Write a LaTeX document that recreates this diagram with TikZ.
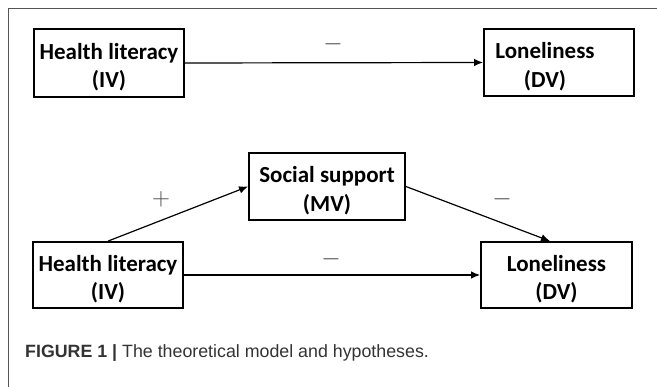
\documentclass[tikz,border=0pt]{standalone}
\usepackage{fontspec}
\setmainfont{Carlito}
\newfontfamily\capfont{Liberation Sans}
\usetikzlibrary{arrows.meta}
\definecolor{framegray}{HTML}{555555}
\definecolor{capgray}{HTML}{333333}
\definecolor{signgray}{HTML}{444444}
\newcommand{\topstrut}{\rule{0pt}{24pt}}
\begin{document}
\begin{tikzpicture}[x=1pt,y=-1pt,
  varbox/.style={draw=black, line width=1.8pt, rectangle, inner sep=0pt,
    align=center, font=\fontsize{23}{28.5}\selectfont\bfseries},
  link/.style={draw=black, line width=1.2pt, -{Latex[length=9pt,width=7.5pt]}},
  sign/.style={text=signgray, font=\fontsize{23}{26}\selectfont, inner sep=0pt}
]
\useasboundingbox (0,0) rectangle (657,387);
% page frame
\draw[framegray, line width=1pt] (8,387) -- (8,9) -- (657,9);

% top model
\node[varbox, minimum width=150pt, minimum height=68pt] (hl1) at (109,63) {\topstrut Health literacy\\(IV)};
\node[varbox, minimum width=150pt, minimum height=67pt] (lo1) at (559,62.5) {\topstrut Loneliness\hspace*{28pt}\\(DV)\hspace*{28pt}};
\draw[link] (hl1.east) -- (lo1.west);
\node[sign] (s1) at (333,44) {$-$};

% mediation model
\node[varbox, minimum width=156pt, minimum height=67pt] (ss) at (327,186.5) {\topstrut Social support\\(MV)};
\node[varbox, minimum width=150pt, minimum height=66pt] (hl2) at (108,275) {\topstrut Health literacy\\(IV)};
\node[varbox, minimum width=151pt, minimum height=66pt] (lo2) at (556.5,275) {\topstrut Loneliness\\(DV)};
\coordinate (lo2in) at ([xshift=-6.5pt]lo2.north);
\draw[link] (hl2.north) -- (ss.west);
\draw[link] (ss.east) -- (lo2in);
\draw[link] (hl2.east) -- (lo2.west);
\node[sign] (s2) at (161,199) {$+$};
\node[sign] (s3) at (502,199) {$-$};
\node[sign] (s4) at (331,259) {$-$};

% caption
\node[anchor=base west, inner sep=0pt, text=capgray, font=\capfont\fontsize{17.8}{20}\selectfont] (cap) at (25,358)
  {\textbf{FIGURE 1 |} The theoretical model and hypotheses.};
\end{tikzpicture}
\end{document}
